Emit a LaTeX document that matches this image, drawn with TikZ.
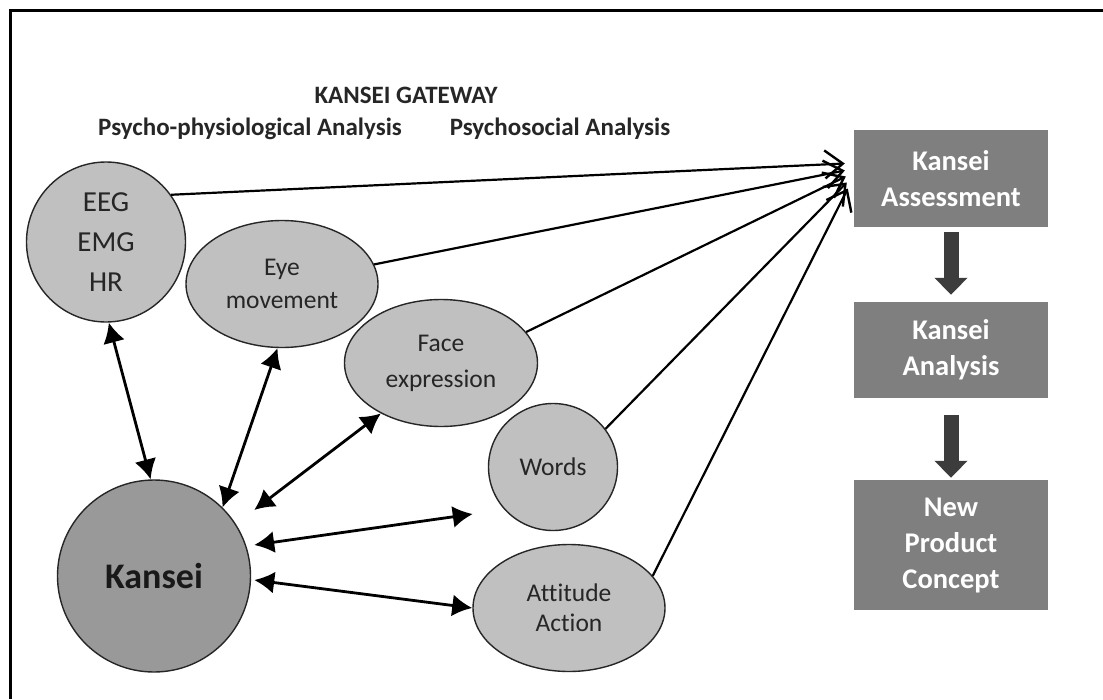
\documentclass[tikz,border=0pt]{standalone}
\usepackage{fontspec}
\setmainfont{Carlito}[Ligatures=NoCommon]
\usetikzlibrary{shapes.geometric,arrows.meta,calc}

\definecolor{bubble}{HTML}{C0C0C0}
\definecolor{core}{HTML}{999999}
\definecolor{stage}{HTML}{7F7F7F}
\definecolor{flowdark}{HTML}{3C3C3C}
\definecolor{ink}{HTML}{262626}

\tikzset{
  bubble/.style={ellipse, draw=ink, line width=1.4pt, fill=bubble, inner sep=0pt,
    text=ink, align=center},
  stagebox/.style={rectangle, fill=stage, inner sep=0pt, minimum width=194pt,
    text=white, align=center, font=\bfseries\fontsize{28.5}{36}\selectfont},
  heading/.style={text=ink, font=\bfseries\fontsize{25}{28}\selectfont},
  feed/.style={line width=2.2pt, -{Straight Barb[length=18pt,width=28pt,line width=2.4pt]}},
  link/.style={line width=2.8pt, {Latex[length=20pt,width=22pt]}-{Latex[length=20pt,width=22pt]}},
  flow/.style={line width=15pt, draw=flowdark, -{Triangle[length=17pt,width=32pt]}}
}

\begin{document}
\begin{tikzpicture}[x=1pt,y=-1pt]
\useasboundingbox (0,0) rectangle (1103,699);
\fill[white] (0,0) rectangle (1103,699);

% frame edges
\draw[line width=3pt] (1103,10) -- (10,10) -- (10,699);

% headings
\node[heading] (gw) at (406,95) {KANSEI GATEWAY};
\node[heading] (pp) at (250,129) {Psycho-physiological Analysis};
\node[heading] (ps) at (560,129) {Psychosocial Analysis};

% measured channels
\node[bubble, minimum width=159pt, minimum height=160pt,
  font=\fontsize{29}{40}\selectfont] (eeg) at (106,242) {EEG\\EMG\\HR};
\node[bubble, minimum width=192pt, minimum height=127pt,
  font=\fontsize{25.5}{33}\selectfont] (eye) at (282,284) {Eye\\movement};
\node[bubble, minimum width=193pt, minimum height=127pt,
  font=\fontsize{25.5}{36}\selectfont] (face) at (441,363) {Face\\expression};
\node[bubble, minimum width=129pt, minimum height=127pt,
  font=\fontsize{25.5}{30}\selectfont] (words) at (553,467) {Words};
\node[bubble, minimum width=192pt, minimum height=127pt,
  font=\fontsize{25.5}{30}\selectfont] (att) at (569,608) {Attitude\\Action};

% central kansei
\node[bubble, fill=core, minimum width=193pt, minimum height=192pt,
  text=black!90, font=\bfseries\fontsize{36}{40}\selectfont] (kansei) at (154,576) {Kansei};

% process chain
\node[stagebox, minimum height=97pt] (ka) at (951,178.5) {Kansei\\Assessment};
\node[stagebox, minimum height=96pt] (kb) at (951,350) {Kansei\\Analysis};
\node[stagebox, minimum height=130pt] (kc) at (951,545) {New\\Product\\Concept};

\draw[flow] ([yshift=-5pt]ka.south) -- ([yshift=7pt]kb.north);
\draw[flow] ([yshift=-17pt]kb.south) -- ([yshift=2pt]kc.north);

% converging feeds into the assessment
\coordinate (t1) at ($(ka.west)+(-9,-15)$);
\coordinate (t2) at ($(ka.west)+(-9,-8)$);
\coordinate (t3) at ($(ka.west)+(-8,-2)$);
\coordinate (t4) at ($(ka.west)+(-7,4)$);
\coordinate (t5) at ($(ka.west)+(-6,10)$);
\draw[feed] (eeg.36) -- (t1);
\draw[feed] (eye.12) -- (t2);
\draw[feed] (face.20) -- (t3);
\draw[feed] (words.36) -- (t4);
\draw[feed] (att.21) -- (t5);

% links between kansei and each channel
\draw[link] (eeg.-88) -- (kansei.92);
\draw[link] (eye.-94) -- (kansei.45);
\draw[link] (face.220) -- ($(kansei.east)+(3,-66)$);
\draw[link] ($(kansei.east)+(3,-31)$) -- ($(words.west)+(-15,47)$);
\draw[link] ($(kansei.east)+(3,4)$) -- (att.west);
\end{tikzpicture}
\end{document}
